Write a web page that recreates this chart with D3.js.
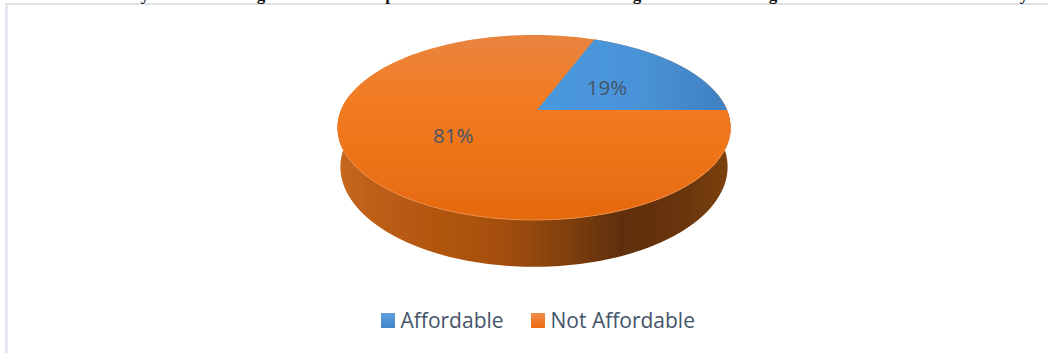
<!DOCTYPE html>
<html>
<head>
<meta charset="utf-8">
<script src="https://cdn.jsdelivr.net/npm/d3@7"></script>
<style>
html,body{margin:0;padding:0;background:#fff;overflow:hidden}
svg{display:block}
</style>
</head>
<body>
<svg id="chart" width="1048" height="353"></svg>
<script>
const categories = ["Affordable", "Not Affordable"];
const shares = [19, 81];
const titleTails = ["y", "g", "p", "g", "g", "y"];
const titleTailX = [145, 261, 390, 637, 773, 1024];

const width = 1048, height = 353;
const cx = 534, cy = 110;
const radiusX = 193, radiusY = 89.2, tilt = 0.189;
const rimDepth = 38;
const textColor = "#44546a";

const svg = d3.select("#chart").attr("viewBox", [0, 0, width, height]);
const defs = svg.append("defs");

function verticalGradient(id, stops) {
  const g = defs.append("linearGradient").attr("id", id)
    .attr("x1", 0).attr("y1", 0).attr("x2", 0).attr("y2", 1);
  stops.forEach(([o, c]) => g.append("stop").attr("offset", o).attr("stop-color", c));
}
verticalGradient("orangeTop", [[0, "#e8843f"], [0.3, "#f27c26"], [0.6, "#ef7518"], [1, "#e4690f"]]);
verticalGradient("blueSwatch", [[0, "#62a0dc"], [1, "#3f85c8"]]);
verticalGradient("orangeSwatch", [[0, "#f08c4c"], [1, "#ec6c14"]]);

const blueTop = defs.append("linearGradient").attr("id", "blueTop")
  .attr("x1", 0).attr("y1", 0).attr("x2", 1).attr("y2", 0);
[[0, "#4b98dc"], [0.5, "#4a94d8"], [1, "#3f80c2"]]
  .forEach(([o, c]) => blueTop.append("stop").attr("offset", o).attr("stop-color", c));

const sideShade = defs.append("linearGradient").attr("id", "sideShade")
  .attr("x1", 0).attr("y1", 0).attr("x2", 1).attr("y2", 0);
[[0, "#c5681f"], [0.15, "#b95b13"], [0.42, "#a44e0d"], [0.58, "#80400c"],
 [0.72, "#5f2f08"], [0.88, "#693408"], [1, "#7c4210"]]
  .forEach(([o, c]) => sideShade.append("stop").attr("offset", o).attr("stop-color", c));

defs.append("filter").attr("id", "soft")
  .attr("x", "-5%").attr("y", "-5%").attr("width", "110%").attr("height", "110%")
  .append("feGaussianBlur").attr("stdDeviation", 0.6);

// Frame lines along the left and top
svg.append("rect").attr("x", 5).attr("y", 3).attr("width", 3).attr("height", height - 3).attr("fill", "#e5e9f0");
svg.append("rect").attr("x", 5).attr("y", 3).attr("width", width - 5).attr("height", 2).attr("fill", "#dfe3e7");

// Tails of the heading line, cut off by the top edge
svg.append("g").attr("font-family", "Liberation Serif").attr("font-weight", "bold")
  .attr("font-size", 17).attr("fill", "#111").attr("text-anchor", "middle")
  .selectAll("text").data(titleTails).join("text")
  .attr("x", (d, i) => titleTailX[i]).attr("y", 0).text(d => d);

// Perspective projection of the disc: angle runs clockwise from 12 o'clock
function project(angle, r = 1) {
  const u = Math.sin(angle) * r, v = -Math.cos(angle) * r;
  const w = 1 - tilt * v;
  return [cx + radiusX * u / w, cy + radiusY * v / w];
}
function rimBelow(angle) {
  const [x, y] = project(angle);
  const w = 1 + tilt * Math.cos(angle);
  return [cx + (x - cx) * 0.985, y + rimDepth / w];
}

const pieLayout = d3.pie().sort(null).value(d => d)
  .startAngle(Math.PI / 2 - 2 * Math.PI * shares[0] / d3.sum(shares))
  .endAngle(Math.PI / 2 + 2 * Math.PI * shares[1] / d3.sum(shares));
const slices = pieLayout(shares);

const line = d3.line();
const steps = (a0, a1, n = 160) => d3.range(n + 1).map(i => a0 + (a1 - a0) * i / n);

const pie = svg.append("g").attr("filter", "url(#soft)");

// Side wall, drawn around the lower half of the disc
const sweep = steps(Math.PI * 0.44, Math.PI * 1.56);
const sideOutline = sweep.map(a => project(a)).concat(sweep.slice().reverse().map(a => rimBelow(a)));
pie.append("path").attr("d", line(sideOutline) + "Z").attr("fill", "url(#sideShade)");

// Top surface: the larger share fills the whole disc, the smaller wedge sits on it
const apexShift = 3;
const disc = steps(0, 2 * Math.PI, 320).map(a => project(a));
pie.append("path").attr("d", line(disc) + "Z").attr("fill", "url(#orangeTop)");
const wedge = slices[0];
const wedgePts = [[cx + apexShift, cy]].concat(steps(wedge.startAngle, wedge.endAngle).map(a => project(a)));
pie.append("path").attr("d", line(wedgePts) + "Z").attr("fill", "url(#blueTop)");

// Thin highlight where the front of the disc meets the wall
pie.append("path")
  .attr("d", line(steps(Math.PI * 0.56, Math.PI * 1.4).map(a => project(a))))
  .attr("fill", "none").attr("stroke", "#ee8a45").attr("stroke-width", 1);

// Percentage labels near mid-radius of each wedge
svg.append("g").attr("font-family", "Open Sans").attr("font-size", 20.5)
  .attr("fill", textColor).attr("text-anchor", "middle")
  .selectAll("text").data(slices).join("text")
  .attr("transform", d => {
    const [x, y] = project((d.startAngle + d.endAngle) / 2, 0.48);
    return `translate(${x},${y + 8})`;
  })
  .text(d => `${d.data}%`);

// Legend below the pie
const legendX = d3.scaleOrdinal().domain(categories).range([381, 531]);
const legend = svg.append("g").selectAll("g").data(categories).join("g")
  .attr("transform", d => `translate(${legendX(d)},313)`);
legend.append("rect").attr("width", 14).attr("height", 15)
  .attr("fill", (d, i) => i === 0 ? "url(#blueSwatch)" : "url(#orangeSwatch)");
legend.append("text").attr("x", 19.5).attr("y", 14.5)
  .attr("font-family", "Open Sans").attr("font-size", 21).attr("fill", textColor)
  .text(d => d);
</script>
</body>
</html>
